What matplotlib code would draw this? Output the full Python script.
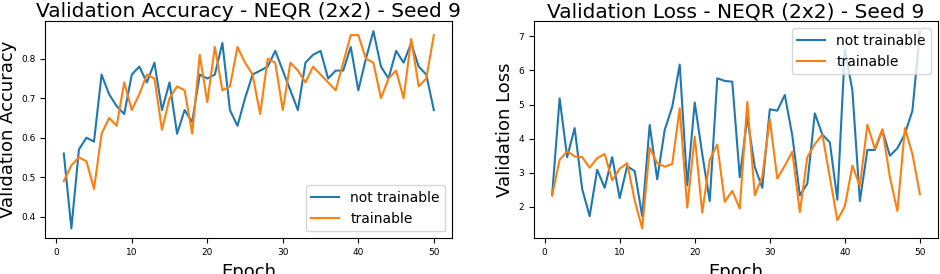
import numpy as np
import matplotlib
matplotlib.use("Agg")
import matplotlib.pyplot as plt

epochs = np.arange(1, 51)

# validation accuracy
acc_not_trainable = [0.56, 0.37, 0.57, 0.60, 0.59, 0.76, 0.71, 0.68, 0.66, 0.76,
                     0.78, 0.74, 0.79, 0.67, 0.74, 0.61, 0.67, 0.64, 0.76, 0.75,
                     0.76, 0.84, 0.67, 0.63, 0.70, 0.76, 0.77, 0.78, 0.82, 0.77,
                     0.72, 0.67, 0.79, 0.81, 0.82, 0.75, 0.77, 0.77, 0.83, 0.72,
                     0.80, 0.87, 0.78, 0.75, 0.82, 0.79, 0.84, 0.78, 0.76, 0.67]
acc_trainable = [0.49, 0.53, 0.55, 0.54, 0.47, 0.61, 0.65, 0.63, 0.74, 0.67,
                 0.71, 0.76, 0.75, 0.62, 0.70, 0.73, 0.72, 0.61, 0.81, 0.69,
                 0.83, 0.72, 0.73, 0.83, 0.79, 0.76, 0.66, 0.80, 0.79, 0.67,
                 0.79, 0.77, 0.74, 0.78, 0.76, 0.74, 0.72, 0.79, 0.86, 0.86,
                 0.80, 0.79, 0.70, 0.75, 0.77, 0.70, 0.85, 0.73, 0.75, 0.86]

# validation loss
loss_not_trainable = [2.34, 5.18, 3.46, 4.31, 2.53, 1.73, 3.09, 2.56, 3.46, 2.26,
                      3.19, 3.05, 1.73, 4.40, 2.81, 4.26, 4.93, 6.17, 2.63, 5.06,
                      3.55, 2.17, 5.77, 5.69, 5.67, 2.87, 4.62, 3.17, 2.56, 4.86,
                      4.82, 5.28, 4.09, 2.34, 2.68, 4.74, 4.12, 3.89, 2.21, 6.61,
                      5.42, 2.17, 3.67, 3.67, 4.25, 3.50, 3.72, 4.14, 4.82, 7.15]
loss_trainable = [2.34, 3.38, 3.63, 3.48, 3.46, 3.15, 3.43, 3.55, 2.78, 3.12,
                  3.28, 2.19, 1.37, 3.73, 3.28, 3.18, 3.26, 4.89, 1.98, 4.06,
                  1.83, 3.38, 3.83, 2.15, 2.47, 1.95, 5.08, 2.34, 2.89, 4.57,
                  2.83, 3.21, 3.62, 1.85, 3.46, 3.84, 4.12, 2.87, 1.61, 2.02,
                  3.21, 2.61, 4.41, 3.70, 4.28, 2.87, 1.88, 4.31, 3.55, 2.37]

fig = plt.figure(figsize=(9.4, 2.74), dpi=100)
ax1 = fig.add_axes([0.0482, 0.1303, 0.433, 0.792])
ax2 = fig.add_axes([0.5678, 0.1303, 0.4304, 0.792])

ax1.plot(epochs, acc_not_trainable, label='not trainable')
ax1.plot(epochs, acc_trainable, label='trainable')
ax1.set_title('Validation Accuracy - NEQR (2x2) - Seed 9', fontsize=14.5, pad=3)
ax1.set_xlabel('Epoch', fontsize=13)
ax1.set_ylabel('Validation Accuracy', fontsize=13, labelpad=3)
ax1.legend(loc='lower right', fontsize=10)

ax2.plot(epochs, loss_not_trainable, label='not trainable')
ax2.plot(epochs, loss_trainable, label='trainable')
ax2.set_title('Validation Loss - NEQR (2x2) - Seed 9', fontsize=14.5, pad=3)
ax2.set_xlabel('Epoch', fontsize=13)
ax2.set_ylabel('Validation Loss', fontsize=13, labelpad=3)
ax2.legend(loc='upper right', fontsize=10)

for ax in (ax1, ax2):
    ax.tick_params(labelsize=6.5)

fig.savefig('out.png', dpi=100)
